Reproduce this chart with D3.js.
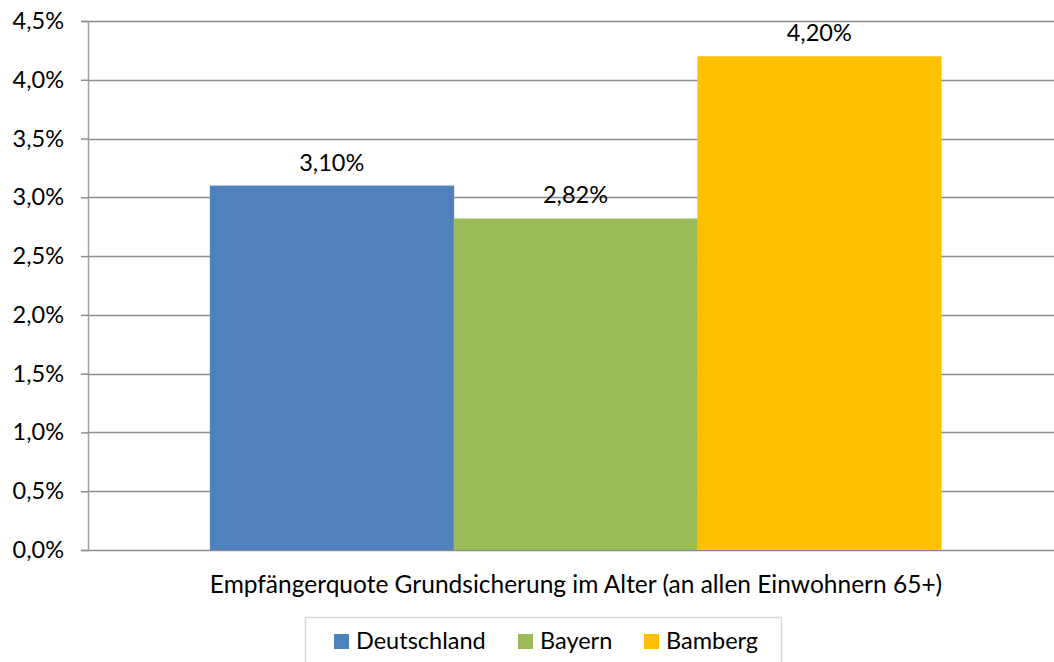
<!DOCTYPE html>
<html>
<head>
<meta charset="utf-8">
<script src="https://cdn.jsdelivr.net/npm/d3@7"></script>
<style>
  body { margin: 0; background: #fff; }
  svg { display: block; font-family: Lato, "Open Sans", sans-serif; }
</style>
</head>
<body>
<div id="chart"></div>
<script>
// data
const categories = ['Empfängerquote Grundsicherung im Alter (an allen Einwohnern 65+)'];
const seriesNames = ['Deutschland', 'Bayern', 'Bamberg'];
const seriesValues = [3.10, 2.82, 4.20];
const seriesColors = ['#4f81bd', '#9bbb59', '#ffc000'];
const yTicks = [0, 0.5, 1, 1.5, 2, 2.5, 3, 3.5, 4, 4.5];

const width = 1054, height = 662;
const margin = { top: 21, right: -9, bottom: 112, left: 88 };
const innerW = width - margin.left - margin.right;
const innerH = height - margin.top - margin.bottom;
const fontSize = 23.5;

const fmtTick = (d) => d.toFixed(1).replace('.', ',') + '%';
const fmtVal = (d) => d.toFixed(2).replace('.', ',') + '%';

const svg = d3.select('#chart').append('svg')
  .attr('width', width)
  .attr('height', height);

const g = svg.append('g')
  .attr('transform', `translate(${margin.left},${margin.top})`);

// scales (gap width 100% like the spreadsheet default)
const x0 = d3.scaleBand().domain(categories).range([0, innerW]).paddingInner(0).paddingOuter(1 / 6);
const x1 = d3.scaleBand().domain(seriesNames).range([0, x0.bandwidth()]);
const y = d3.scaleLinear().domain([0, 4.5]).range([innerH, 0]);

// grid lines
g.append('g')
  .selectAll('line')
  .data(yTicks)
  .join('line')
  .attr('x1', 0)
  .attr('x2', innerW)
  .attr('y1', (d) => Math.round(y(d)) + 0.5)
  .attr('y2', (d) => Math.round(y(d)) + 0.5)
  .attr('stroke', '#8c8c8c')
  .attr('stroke-width', 1.5);

// y axis
const yAxis = d3.axisLeft(y).tickValues(yTicks).tickFormat(fmtTick).tickSize(7).tickPadding(17);
const yAxisG = g.append('g').call(yAxis);
yAxisG.select('.domain').attr('stroke', '#9e9e9e').attr('stroke-width', 1.5);
yAxisG.selectAll('.tick line').attr('stroke', '#8c8c8c').attr('stroke-width', 1.5);
yAxisG.selectAll('.tick text')
  .attr('font-size', fontSize)
  .attr('font-family', 'Lato, sans-serif')
  .attr('fill', '#000');

// bars
const cat = categories[0];
g.append('g')
  .selectAll('rect')
  .data(seriesNames)
  .join('rect')
  .attr('x', (d) => x0(cat) + x1(d))
  .attr('width', x1.bandwidth() + 0.5)
  .attr('y', (d, i) => y(seriesValues[i]))
  .attr('height', (d, i) => innerH - y(seriesValues[i]))
  .attr('fill', (d, i) => seriesColors[i]);

// value labels
g.append('g')
  .selectAll('text')
  .data(seriesNames)
  .join('text')
  .attr('x', (d) => x0(cat) + x1(d) + x1.bandwidth() / 2)
  .attr('y', (d, i) => y(seriesValues[i]) - 15)
  .attr('text-anchor', 'middle')
  .attr('font-size', fontSize)
  .attr('fill', '#000')
  .text((d, i) => fmtVal(seriesValues[i]));

// category label
svg.append('text')
  .attr('x', 576)
  .attr('y', 593)
  .attr('text-anchor', 'middle')
  .attr('font-size', 24.5)
  .attr('fill', '#000')
  .text(cat);

// legend
const legend = svg.append('g');
legend.append('rect')
  .attr('x', 305.5)
  .attr('y', 617.5)
  .attr('width', 476)
  .attr('height', 60)
  .attr('fill', '#fff')
  .attr('stroke', '#d9d9d9')
  .attr('stroke-width', 1.5);

const legendX = [334, 518, 644];
const items = legend.selectAll('g.item')
  .data(seriesNames)
  .join('g')
  .attr('class', 'item')
  .attr('transform', (d, i) => `translate(${legendX[i]},634)`);
items.append('rect')
  .attr('width', 15)
  .attr('height', 15)
  .attr('fill', (d, i) => seriesColors[i]);
items.append('text')
  .attr('x', 22)
  .attr('y', 15)
  .attr('font-size', fontSize)
  .attr('fill', '#000')
  .text((d) => d);
</script>
</body>
</html>
